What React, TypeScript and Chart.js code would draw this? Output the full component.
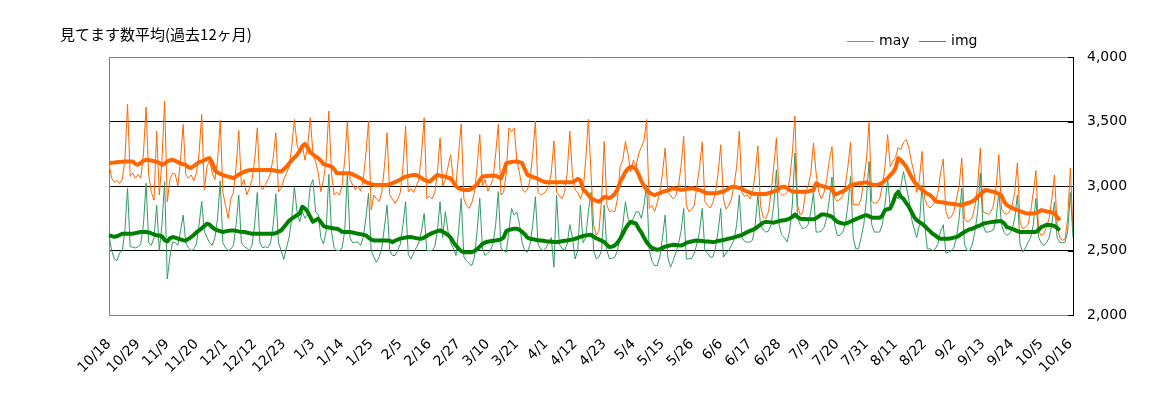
import React, { useEffect, useRef } from "react";
import { Chart, registerables } from "chart.js";

Chart.register(...registerables);

const chartTitle = "見てます数平均(過去12ヶ月)";
const seriesNames = ["may", "img"];

// daily "may" values, 10/18 .. 10/17 (365 days)
const mayDaily: number[] = [
  3177, 3060, 3030, 3045, 3020, 3050, 3200,
  3633, 3075, 3100, 3060, 3090, 3060, 3250,
  3612, 3080, 2950, 2890, 3425, 2930, 3200,
  3659, 2878, 3050, 3100, 3090, 3000, 3200,
  3477, 3086, 3060, 3086, 3040, 3100, 3250,
  3555, 2969, 3150, 3200, 3100, 3050, 3200,
  3508, 2950, 2850, 2748, 2900, 2950, 3150,
  3430, 3000, 3050, 2930, 2980, 3050, 3200,
  3451, 3000, 2970, 3010, 3050, 3100, 3220,
  3412, 2956, 2980, 3050, 3100, 3150, 3300,
  3516, 3320, 3250, 3320, 3200, 3300, 3529,
  3255, 3190, 3100, 2956, 3050, 3200, 3581,
  3100, 2930, 2950, 2930, 3000, 3200, 3500,
  3050, 3008, 2970, 3000, 2960, 3050, 3250,
  3503, 2813, 2930, 2900, 2880, 2950, 3150,
  3412, 2930, 2900, 2865, 2900, 2950, 3150,
  3464, 2956, 2980, 2950, 3000, 3050, 3250,
  3529, 2904, 2920, 2900, 2950, 3100, 3372,
  3000, 3050, 3150, 3242, 3050, 3000, 3250,
  3482, 2900, 2850, 2826, 2870, 2950, 3150,
  3399, 3000, 3050, 2960, 3000, 3050, 3250,
  3477, 2930, 2950, 3100, 3451, 3420, 3451,
  3200, 3100, 2982, 2950, 2970, 3050, 3250,
  3503, 2950, 2930, 2940, 2960, 3000, 3100,
  3350, 2950, 2930, 2900, 2950, 3100, 3425,
  3080, 2970, 2950, 2900, 2960, 3200, 3516,
  3100, 2700, 2617, 2650, 2900, 3346, 2850,
  2800, 2810, 2800, 2900, 3150, 3200, 3346,
  3242, 3112, 3200, 3150, 3250, 3300, 3350,
  3516, 2826, 2850, 2800, 2870, 2950, 3100,
  3294, 2950, 2930, 2900, 2920, 3000, 3150,
  3385, 2850, 2800, 2820, 2850, 3000, 3150,
  3340, 2880, 2850, 2830, 2870, 2950, 3100,
  3320, 2900, 2820, 2850, 2900, 3000, 3150,
  3425, 2950, 2920, 2930, 2900, 2950, 3100,
  3310, 2850, 2760, 2748, 2800, 2950, 3150,
  3370, 2950, 2930, 2930, 2950, 3050, 3250,
  3542, 2850, 2774, 2800, 2950, 3000, 3100,
  3333, 3100, 2950, 2900, 2950, 3050, 3200,
  3305, 2904, 2880, 2900, 2920, 3000, 3150,
  3340, 2852, 2860, 2850, 2900, 3050, 3200,
  3500, 2880, 2865, 2870, 2900, 3000, 3150,
  3398, 3150, 3190, 3220, 3300, 3280, 3340,
  3360, 3300, 3190, 3100, 2950, 3050, 3268,
  2900, 2850, 2830, 2850, 2880, 2950, 3100,
  3210, 2800, 2748, 2760, 2800, 2900, 3000,
  3216, 2750, 2722, 2730, 2760, 2850, 3000,
  3294, 2800, 2790, 2780, 2800, 2850, 3000,
  3242, 2820, 2790, 2780, 2800, 2850, 2950,
  3180, 2720, 2669, 2680, 2700, 2800, 2950,
  3120, 2650, 2617, 2630, 2680, 2750, 2900,
  3086, 2700, 2600, 2578, 2590, 2750, 3140,
  2650,
];

// daily "img" values
const imgDaily: number[] = [
  2617, 2500, 2435, 2422, 2480, 2500, 2650,
  2982, 2530, 2526, 2520, 2530, 2550, 2700,
  3021, 2560, 2540, 2600, 2852, 2500, 2700,
  3034, 2279, 2450, 2565, 2560, 2540, 2650,
  2774, 2560, 2520, 2500, 2510, 2550, 2700,
  2880, 2650, 2600, 2560, 2540, 2600, 2750,
  3040, 2560, 2520, 2500, 2510, 2540, 2700,
  2930, 2560, 2530, 2520, 2500, 2540, 2700,
  2950, 2560, 2520, 2530, 2520, 2560, 2700,
  2940, 2560, 2500, 2430, 2520, 2600, 2750,
  2995, 2800, 2722, 2800, 2750, 2780, 3000,
  3050, 2800, 2780, 2600, 2550, 2650, 3090,
  2650, 2520, 2500, 2500, 2520, 2650, 3086,
  2600, 2560, 2565, 2565, 2540, 2600, 2750,
  2943, 2500, 2450, 2409, 2450, 2520, 2680,
  2852, 2500, 2461, 2461, 2500, 2550, 2700,
  2878, 2470, 2435, 2480, 2520, 2560, 2650,
  2787, 2500, 2500, 2500, 2530, 2650, 2878,
  2600, 2800, 2650, 2560, 2520, 2461, 2650,
  2904, 2450, 2420, 2400, 2383, 2450, 2650,
  2904, 2520, 2461, 2480, 2500, 2550, 2700,
  2956, 2520, 2500, 2487, 2650, 2826, 2774,
  2800, 2700, 2560, 2500, 2487, 2550, 2700,
  2917, 2550, 2510, 2500, 2520, 2560, 2600,
  2370, 2930, 2550, 2520, 2500, 2550, 2700,
  2600, 2435, 2500, 2852, 2560, 2600, 2800,
  2950, 2500, 2435, 2450, 2500, 2852, 2500,
  2435, 2440, 2450, 2500, 2600, 2700, 2878,
  2750, 2700, 2750, 2800, 2800, 2750, 2850,
  3008, 2500, 2420, 2383, 2383, 2450, 2600,
  2774, 2450, 2370, 2420, 2480, 2550, 2650,
  2826, 2435, 2435, 2440, 2480, 2550, 2650,
  2826, 2500, 2480, 2448, 2448, 2520, 2650,
  2826, 2448, 2480, 2500, 2540, 2580, 2700,
  2930, 2600, 2570, 2565, 2565, 2580, 2700,
  2930, 2700, 2660, 2643, 2650, 2700, 2850,
  3125, 2700, 2620, 2600, 2565, 2650, 2850,
  3255, 2750, 2700, 2669, 2680, 2700, 2800,
  2950, 2643, 2643, 2650, 2680, 2750, 2900,
  3070, 2700, 2617, 2617, 2640, 2700, 2850,
  3073, 2600, 2513, 2513, 2600, 2700, 2900,
  3190, 2700, 2643, 2643, 2643, 2700, 2850,
  3060, 2830, 2880, 2930, 2900, 3000, 3112,
  3000, 2900, 2750, 2669, 2600, 2700, 3008,
  2700, 2513, 2513, 2500, 2513, 2550, 2650,
  2700, 2480, 2487, 2500, 2520, 2600, 2750,
  2982, 2550, 2500, 2500, 2550, 2650, 2800,
  3099, 2700, 2643, 2643, 2650, 2660, 2750,
  2956, 2700, 2640, 2617, 2630, 2660, 2750,
  2930, 2550, 2487, 2520, 2560, 2600, 2700,
  2904, 2600, 2560, 2539, 2560, 2600, 2700,
  2878, 2600, 2565, 2560, 2565, 2650, 2950,
  2600,
];

// moving averages (thick lines), last days not yet available
const mayAvg: (number | null)[] = [
  3177, 3180, 3182, 3185, 3187, 3188, 3190, 3190, 3190, 3190,
  3170, 3165, 3180, 3195, 3203, 3200, 3197, 3192, 3188, 3180,
  3164, 3175, 3190, 3200, 3203, 3195, 3185, 3175, 3168, 3164,
  3145, 3140, 3155, 3170, 3185, 3190, 3200, 3212, 3216, 3180,
  3120, 3105, 3095, 3085, 3078, 3073, 3068, 3060, 3075, 3090,
  3099, 3110, 3118, 3122, 3125, 3125, 3125, 3125, 3125, 3125,
  3125, 3124, 3122, 3118, 3115, 3112, 3130, 3150, 3175, 3200,
  3220, 3242, 3270, 3310, 3326, 3300, 3260, 3245, 3229, 3216,
  3195, 3170, 3164, 3158, 3151, 3130, 3100, 3099, 3099, 3099,
  3099, 3099, 3090, 3080, 3070, 3060, 3045, 3029, 3022, 3015,
  3008, 3008, 3008, 3008, 3008, 3008, 3015, 3022, 3029, 3040,
  3050, 3062, 3073, 3078, 3082, 3085, 3086, 3075, 3060, 3048,
  3040, 3034, 3050, 3070, 3086, 3080, 3076, 3073, 3066, 3060,
  3030, 3000, 2982, 2975, 2970, 2969, 2969, 2980, 2995, 3010,
  3045, 3073, 3076, 3078, 3080, 3081, 3078, 3070, 3060, 3110,
  3177, 3182, 3186, 3189, 3190, 3185, 3177, 3130, 3086, 3078,
  3070, 3062, 3055, 3045, 3035, 3029, 3029, 3029, 3029, 3029,
  3029, 3029, 3029, 3029, 3029, 3029, 3040, 3055, 3045, 2975,
  2956, 2930, 2904, 2895, 2885, 2878, 2895, 2915, 2912, 2906,
  2920, 2940, 2975, 3030, 3070, 3110, 3135, 3150, 3145, 3130,
  3090, 3040, 3000, 2969, 2950, 2938, 2930, 2938, 2945, 2955,
  2960, 2965, 2975, 2982, 2978, 2974, 2970, 2972, 2976, 2980,
  2982, 2978, 2974, 2969, 2960, 2950, 2943, 2943, 2943, 2943,
  2948, 2953, 2956, 2968, 2980, 2992, 2995, 2990, 2984, 2978,
  2965, 2956, 2948, 2942, 2938, 2938, 2938, 2938, 2938, 2944,
  2950, 2956, 2965, 2980, 2992, 2995, 2985, 2970, 2958, 2956,
  2956, 2956, 2956, 2956, 2958, 2963, 2969, 3021, 3010, 3000,
  2995, 2990, 2985, 2975, 2935, 2940, 2950, 2956, 2970, 2990,
  3005, 3010, 3015, 3020, 3023, 3026, 3029, 3020, 3012, 3008,
  3010, 3013, 3025, 3045, 3060, 3085, 3105, 3140, 3216, 3200,
  3177, 3151, 3110, 3070, 3034, 3010, 2990, 2969, 2955, 2940,
  2930, 2910, 2885, 2878, 2875, 2872, 2868, 2865, 2862, 2860,
  2857, 2855, 2852, 2860, 2866, 2872, 2880, 2895, 2917, 2935,
  2955, 2969, 2965, 2960, 2956, 2948, 2938, 2925, 2880, 2852,
  2840, 2830, 2820, 2813, 2805, 2798, 2790, 2787, 2787, 2787,
  2790, 2800, 2813, 2808, 2803, 2800, 2795, 2787, 2760, 2735,
  null, null, null, null, null,
];

const imgAvg: (number | null)[] = [
  2617, 2612, 2606, 2610, 2620, 2630, 2630, 2630, 2630, 2630,
  2635, 2640, 2643, 2643, 2643, 2640, 2632, 2625, 2617, 2617,
  2610, 2580, 2570, 2595, 2604, 2600, 2592, 2586, 2580, 2578,
  2590, 2604, 2620, 2640, 2656, 2672, 2690, 2708, 2700, 2680,
  2665, 2656, 2650, 2643, 2648, 2652, 2656, 2656, 2652, 2648,
  2645, 2643, 2640, 2635, 2630, 2630, 2630, 2630, 2630, 2630,
  2630, 2630, 2630, 2635, 2645, 2656, 2680, 2705, 2730, 2747,
  2760, 2775, 2787, 2839, 2825, 2800, 2760, 2722, 2735, 2747,
  2720, 2690, 2682, 2678, 2674, 2670, 2669, 2660, 2645, 2643,
  2643, 2643, 2640, 2635, 2630, 2627, 2622, 2617, 2600, 2585,
  2578, 2578, 2578, 2578, 2578, 2578, 2575, 2565, 2575, 2585,
  2593, 2596, 2600, 2602, 2604, 2600, 2596, 2593, 2591, 2600,
  2612, 2625, 2635, 2643, 2650, 2656, 2645, 2635, 2620, 2600,
  2565, 2539, 2515, 2495, 2487, 2487, 2487, 2487, 2495, 2510,
  2530, 2550, 2562, 2568, 2572, 2576, 2578, 2582, 2586, 2600,
  2650, 2660, 2665, 2668, 2669, 2660, 2645, 2625, 2600, 2591,
  2588, 2584, 2580, 2578, 2575, 2572, 2570, 2567, 2565, 2565,
  2568, 2572, 2576, 2578, 2582, 2586, 2591, 2598, 2605, 2612,
  2617, 2620, 2622, 2606, 2595, 2585, 2575, 2565, 2545, 2526,
  2530, 2539, 2560, 2591, 2630, 2669, 2700, 2722, 2715, 2708,
  2670, 2640, 2600, 2565, 2540, 2520, 2513, 2505, 2510, 2520,
  2530, 2535, 2540, 2544, 2542, 2540, 2539, 2545, 2560, 2565,
  2570, 2575, 2578, 2576, 2573, 2570, 2570, 2568, 2565, 2568,
  2575, 2578, 2582, 2586, 2592, 2596, 2602, 2608, 2614, 2620,
  2632, 2643, 2652, 2660, 2669, 2685, 2700, 2716, 2722, 2720,
  2718, 2716, 2722, 2728, 2732, 2734, 2740, 2748, 2760, 2779,
  2760, 2747, 2745, 2744, 2743, 2742, 2742, 2750, 2765, 2779,
  2779, 2776, 2770, 2761, 2740, 2722, 2715, 2710, 2708, 2715,
  2725, 2734, 2743, 2752, 2761, 2768, 2774, 2765, 2755, 2753,
  2753, 2753, 2770, 2813, 2820, 2826, 2870, 2930, 2956, 2917,
  2900, 2870, 2839, 2800, 2760, 2735, 2720, 2708, 2690, 2669,
  2650, 2630, 2617, 2600, 2591, 2591, 2591, 2591, 2595, 2600,
  2604, 2615, 2630, 2643, 2655, 2665, 2669, 2680, 2688, 2695,
  2708, 2712, 2716, 2720, 2722, 2724, 2726, 2727, 2710, 2682,
  2675, 2668, 2660, 2650, 2643, 2643, 2643, 2643, 2643, 2643,
  2643, 2660, 2682, 2690, 2700, 2698, 2695, 2690, 2675, 2656,
  null, null, null, null, null,
];

const tickLabels = [
  "10/18", "10/29", "11/9", "11/20", "12/1", "12/12", "12/23", "1/3", "1/14",
  "1/25", "2/5", "2/16", "2/27", "3/10", "3/21", "4/1", "4/12", "4/23", "5/4",
  "5/15", "5/26", "6/6", "6/17", "6/28", "7/9", "7/20", "7/31", "8/11", "8/22",
  "9/2", "9/13", "9/24", "10/5", "10/16",
];

const yTicks = [2000, 2500, 3000, 3500, 4000];

// one category per day, starting 10/18
const days: string[] = mayDaily.map((_, i) => {
  const d = new Date(2018, 9, 18 + i);
  return `${d.getMonth() + 1}/${d.getDate()}`;
});

const MAY_COLOR = "#FF6600";
const IMG_COLOR = "#339966";
const MAY_AVG_COLOR = "#FF6600";
const IMG_AVG_COLOR = "#008000";
const LATIN = "'DejaVu Sans', sans-serif";

const fmt = (v: number) => String(v).replace(/\B(?=(\d{3})+(?!\d))/g, ",");

const framePlugin = {
  id: "frame",
  beforeDatasetsDraw(chart: any) {
    const { ctx, chartArea: a, scales } = chart;
    const y = scales.y;
    ctx.save();
    ctx.lineWidth = 1;
    ctx.strokeStyle = "#808080";
    ctx.beginPath();
    ctx.moveTo(a.right, a.top + 0.5);
    ctx.lineTo(a.left + 0.5, a.top + 0.5);
    ctx.lineTo(a.left + 0.5, a.bottom + 0.5);
    ctx.lineTo(a.right, a.bottom + 0.5);
    ctx.stroke();
    ctx.strokeStyle = "#000";
    ctx.beginPath();
    ctx.moveTo(a.right + 0.5, a.top);
    ctx.lineTo(a.right + 0.5, a.bottom + 1);
    for (const v of yTicks) {
      const py = Math.round(y.getPixelForValue(v)) + 0.5;
      ctx.moveTo(a.right - 5, py);
      ctx.lineTo(a.right + 0.5, py);
    }
    ctx.stroke();
    ctx.restore();
  },
  afterDraw(chart: any) {
    const { ctx } = chart;
    ctx.save();
    ctx.fillStyle = "#000";
    ctx.textBaseline = "middle";
    ctx.textAlign = "left";
    ctx.font = "15px 'Noto Sans CJK JP', sans-serif";
    ctx.fillText(chartTitle, 60, 34);
    // legend
    ctx.font = `14px ${LATIN}`;
    const items = [
      { x: 847, color: MAY_COLOR, label: seriesNames[0] },
      { x: 919, color: IMG_COLOR, label: seriesNames[1] },
    ];
    for (const it of items) {
      ctx.strokeStyle = it.color;
      ctx.lineWidth = 1;
      ctx.beginPath();
      ctx.moveTo(it.x, 41.5);
      ctx.lineTo(it.x + 27, 41.5);
      ctx.stroke();
      ctx.fillText(it.label, it.x + 32, 41);
    }
    ctx.restore();
  },
};

export default function App() {
  const ref = useRef<HTMLCanvasElement | null>(null);
  useEffect(() => {
    if (!ref.current) return;
    Chart.defaults.font.family = LATIN;
    Chart.defaults.font.size = 14;
    Chart.defaults.color = "#000";
    const chart = new Chart(ref.current, {
      type: "line",
      data: {
        labels: days,
        datasets: [
          {
            label: seriesNames[0],
            data: mayDaily,
            borderColor: MAY_COLOR,
            borderWidth: 1,
            pointRadius: 0,
            tension: 0,
            order: 4,
          },
          {
            label: seriesNames[1],
            data: imgDaily,
            borderColor: IMG_COLOR,
            borderWidth: 1,
            pointRadius: 0,
            tension: 0,
            order: 3,
          },
          {
            label: seriesNames[0] + " avg",
            data: mayAvg,
            borderColor: MAY_AVG_COLOR,
            borderWidth: 4,
            pointRadius: 0,
            tension: 0,
            borderJoinStyle: "round",
            order: 2,
          },
          {
            label: seriesNames[1] + " avg",
            data: imgAvg,
            borderColor: IMG_AVG_COLOR,
            borderWidth: 4,
            pointRadius: 0,
            tension: 0,
            borderJoinStyle: "round",
            order: 1,
          },
        ],
      },
      options: {
        animation: false,
        responsive: false,
        devicePixelRatio: 1,
        events: [],
        layout: { padding: { left: 109, top: 57, right: 0, bottom: 0 } },
        plugins: {
          legend: { display: false },
          title: { display: false },
          tooltip: { enabled: false },
        },
        scales: {
          x: {
            type: "category",
            offset: false,
            grid: { display: false, drawTicks: false },
            border: { display: false },
            ticks: {
              autoSkip: false,
              minRotation: 45,
              maxRotation: 45,
              padding: 21,
              labelOffset: 0,
              color: "#000",
              font: { family: LATIN, size: 14 },
              callback: (_v: any, i: number) =>
                tickLabels.includes(days[i]) ? days[i] : "",
            },
            afterFit: (s: any) => {
              s.height = 84;
            },
          },
          y: {
            position: "right",
            min: 2000,
            max: 4000,
            grid: {
              drawTicks: false,
              lineWidth: 1,
              color: (c: any) =>
                c.tick && c.tick.value > 2000 && c.tick.value < 4000
                  ? "#000"
                  : "rgba(0,0,0,0)",
            },
            border: { display: false },
            ticks: {
              stepSize: 500,
              padding: 14,
              color: "#000",
              font: { family: LATIN, size: 14 },
              callback: (v: any) => fmt(Number(v)),
            },
            afterFit: (s: any) => {
              s.width = 79;
            },
          },
        },
      },
      plugins: [framePlugin],
    } as any);
    return () => chart.destroy();
  }, []);
  return (
    <div
      style={{
        position: "absolute",
        left: 0,
        top: 0,
        width: 1152,
        height: 399,
        background: "#fff",
      }}
    >
      <canvas ref={ref} width={1152} height={399} style={{ display: "block" }} />
    </div>
  );
}
